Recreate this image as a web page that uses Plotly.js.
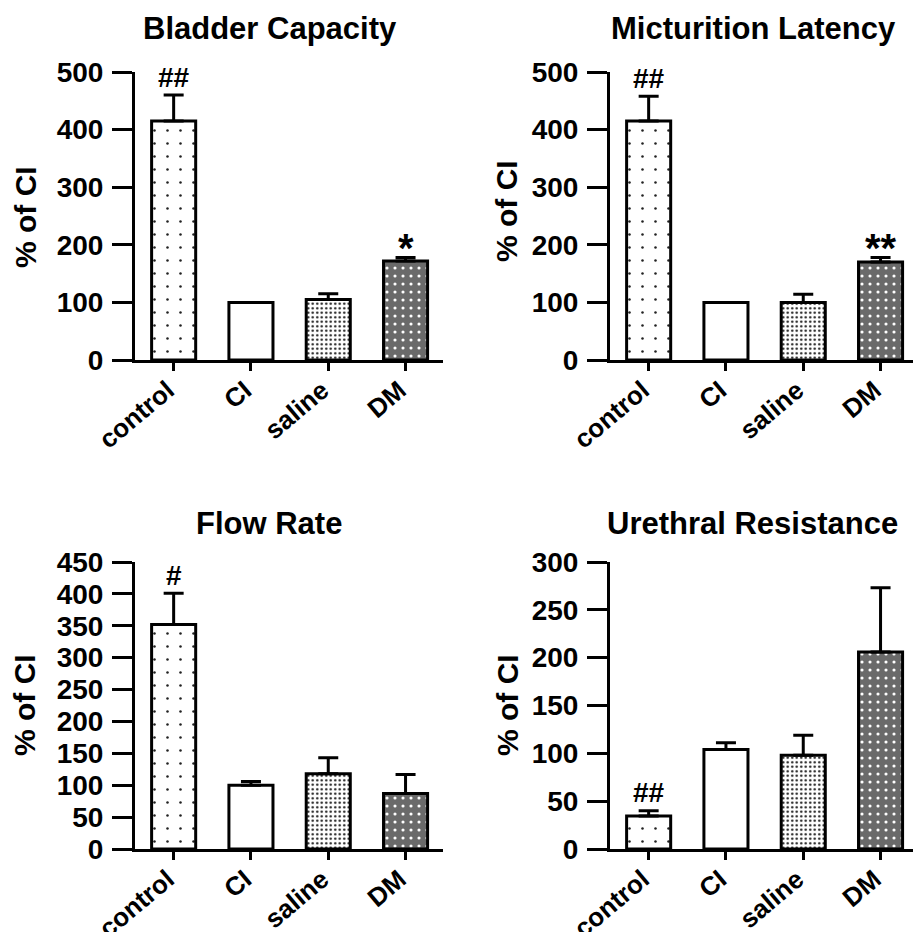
<!DOCTYPE html>
<html>
<head>
<meta charset="utf-8">
<script src="https://cdn.plot.ly/plotly-3.0.1.min.js"></script>
<style>
html,body{margin:0;padding:0;background:#fff;}
#chart{width:913px;height:932px;}
</style>
</head>
<body>
<div id="chart"></div>
<script>
// ---- data ----
const categories = ['control', 'CI', 'saline', 'DM'];
const panelTitles = ['Bladder Capacity', 'Micturition Latency', 'Flow Rate', 'Urethral Resistance'];
const yAxisLabel = '% of CI';

const bladderMean = [415, 100, 105, 172];
const bladderErr  = [45, 0, 10, 6];
const latencyMean = [415, 100, 100, 170];
const latencyErr  = [43, 0, 14, 8];
const flowMean    = [352, 100, 118, 87];
const flowErr     = [49, 6, 25, 30];
const resistMean  = [34.5, 104, 98, 206];
const resistErr   = [5.5, 7, 21, 67];

const bladderMarks = ['##', '', '', '*'];
const latencyMarks = ['##', '', '', '**'];
const flowMarks    = ['#', '', '', ''];
const resistMarks  = ['##', '', '', ''];

const yMaxes = [500, 500, 450, 300];
const yDticks = [100, 100, 50, 50];

// ---- styling ----
const FONT = 'Liberation Sans, Arial, Helvetica, sans-serif';
const W = 913, H = 932;
const px = v => v / W;
const py = v => (H - v) / H;

const panels = [
  {mean: bladderMean, err: bladderErr, marks: bladderMarks, xd: [135, 443], yd: [72, 360]},
  {mean: latencyMean, err: latencyErr, marks: latencyMarks, xd: [610, 913], yd: [72, 360]},
  {mean: flowMean,    err: flowErr,    marks: flowMarks,    xd: [135, 443], yd: [562, 849]},
  {mean: resistMean,  err: resistErr,  marks: resistMarks,  xd: [610, 913], yd: [562, 849]}
];
const titlePos = [[270, 28], [753, 28], [269, 523], [752, 523]];
const ytitlePos = [[25, 217], [507, 211], [24, 705], [507, 705]];

const pattern = {
  shape:    ['.', '', '.', '.'],
  bgcolor:  ['#ffffff', '#ffffff', '#ffffff', '#6a6a6a'],
  fgcolor:  ['#222222', '#ffffff', '#111111', '#ffffff'],
  size:     [13, 8, 4.5, 8],
  solidity: [0.03, 0.1, 0.22, 0.12],
  fgopacity: 1
};

const traces = [];
const layout = {
  width: W, height: H,
  margin: {l: 0, r: 0, t: 0, b: 0},
  paper_bgcolor: '#fff', plot_bgcolor: '#fff',
  showlegend: false,
  font: {family: FONT, color: '#000', weight: 'bold'},
  annotations: [],
  bargap: 0
};

const step = 77.3;
panels.forEach((p, i) => {
  const n = i === 0 ? '' : String(i + 1);
  const xa = 'x' + n, ya = 'y' + n;
  traces.push({
    type: 'bar', x: categories, y: p.mean, xaxis: xa, yaxis: ya,
    width: 0.57,
    marker: {color: '#ffffff', line: {color: '#000', width: 3}, pattern: pattern},
    error_y: {type: 'data', symmetric: false, array: p.err, arrayminus: p.err.map(() => 0),
              color: '#000', thickness: 3, width: 10},
    hoverinfo: 'none'
  });
  const xRight = -0.5 + (p.xd[1] - p.xd[0]) / step;
  layout['xaxis' + n] = {
    domain: [px(p.xd[0]), px(p.xd[1])],
    anchor: ya, range: [-0.5, xRight], type: 'category',
    showline: true, linecolor: '#000', linewidth: 3,
    ticks: 'outside', ticklen: 8, tickwidth: 3, tickcolor: '#000',
    tickangle: -40, ticklabelstandoff: -6, ticklabelshift: -6,
    showgrid: false, zeroline: false, fixedrange: true,
    tickfont: {family: FONT, size: 26, color: '#000', weight: 'bold'}
  };
  layout['yaxis' + n] = {
    domain: [py(p.yd[1]), py(p.yd[0])],
    anchor: xa, range: [0, yMaxes[i]], dtick: yDticks[i], tick0: 0,
    showline: true, linecolor: '#000', linewidth: 3,
    ticks: 'outside', ticklen: 20, tickwidth: 3, tickcolor: '#000',
    ticklabelstandoff: 3,
    showgrid: false, zeroline: false, fixedrange: true,
    tickfont: {family: FONT, size: 28, color: '#000', weight: 'bold'}
  };
  layout.annotations.push({
    xref: 'paper', yref: 'paper', x: px(titlePos[i][0]), y: py(titlePos[i][1]),
    text: panelTitles[i], showarrow: false, xanchor: 'center', yanchor: 'middle',
    font: {family: FONT, size: 31, color: '#000', weight: 'bold'}
  });
  layout.annotations.push({
    xref: 'paper', yref: 'paper', x: px(ytitlePos[i][0]), y: py(ytitlePos[i][1]),
    text: yAxisLabel, showarrow: false, textangle: -90, xanchor: 'center', yanchor: 'middle',
    font: {family: FONT, size: 30, color: '#000', weight: 'bold'}
  });
  p.marks.forEach((m, k) => {
    if (!m) return;
    const star = m.indexOf('*') >= 0;
    layout.annotations.push({
      xref: xa, yref: ya, x: categories[k], y: p.mean[k] + p.err[k],
      text: m, showarrow: false, xanchor: 'center', yanchor: 'middle',
      yshift: star ? 9 : 18,
      font: {family: FONT, size: star ? 40 : 28, color: '#000', weight: 'bold'}
    });
  });
});

Plotly.newPlot('chart', traces, layout, {staticPlot: true});
</script>
</body>
</html>
